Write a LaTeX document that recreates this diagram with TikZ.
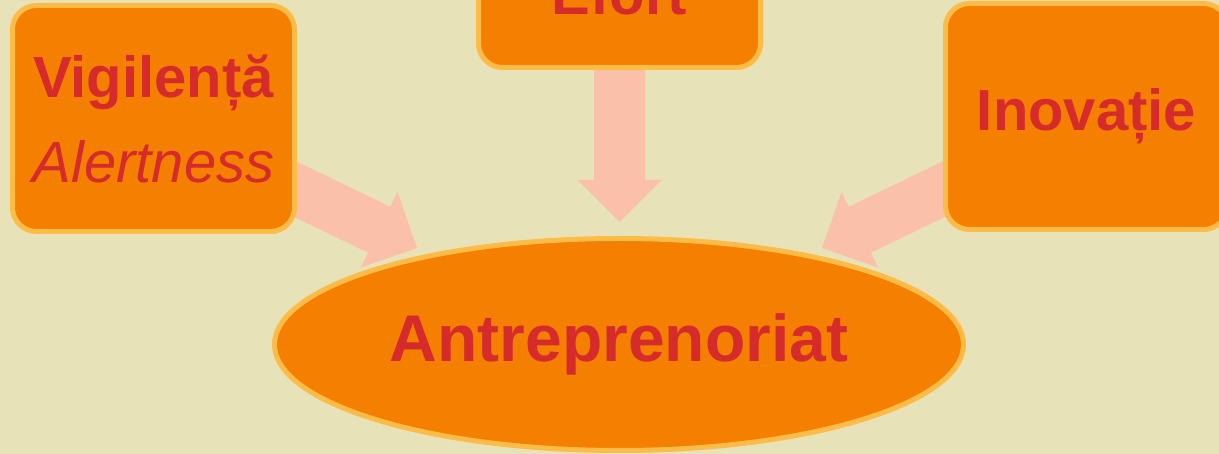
\documentclass[tikz,border=0pt]{standalone}
\usepackage{fontspec}
\setmainfont{Liberation Sans}
\usetikzlibrary{calc,shapes.geometric}
\definecolor{bgcol}{HTML}{E8E2B8}
\definecolor{boxfill}{HTML}{F57F00}
\definecolor{boxline}{HTML}{FDBB48}
\definecolor{txtred}{HTML}{D62B2B}
\definecolor{arrfill}{HTML}{FBC0AA}
\newcommand\blkarrow[2]{%
  \coordinate (#1h) at ($(#2)!42pt!(#1)$);
  \fill[arrfill] ($(#1)!25.5pt!90:(#2)$) -- ($(#1h)!25.5pt!90:(#2)$) -- ($(#1h)!42pt!90:(#2)$) -- (#2)
    -- ($(#1h)!42pt!-90:(#2)$) -- ($(#1h)!25.5pt!-90:(#2)$) -- ($(#1)!25.5pt!-90:(#2)$) -- cycle;}
\begin{document}
\begin{tikzpicture}[x=1pt,y=-1pt,
  box/.style={draw=boxline, line width=5pt, fill=boxfill, rounded corners=24pt,
    minimum width=282pt, minimum height=226pt, text=txtred,
    font=\fontsize{58}{85}\selectfont\bfseries, align=center, inner sep=0pt},
  oval/.style={ellipse, draw=boxline, line width=5pt, fill=boxfill,
    minimum width=689pt, minimum height=212pt, text=txtred,
    font=\fontsize{66}{80}\selectfont\bfseries, inner sep=0pt}]
\useasboundingbox (0,0) rectangle (1219,454);
\fill[bgcol] (0,0) rectangle (1219,454);
\clip (0,0) rectangle (1219,454);
% arrows
\coordinate (sl) at (255,169.7);
\coordinate (tl) at (417,248);
\coordinate (sr) at (984,169.7);
\coordinate (tr) at (822,248);
\coordinate (st) at (619.5,40);
\coordinate (tt) at (619.5,222);
\blkarrow{sl}{tl}
\blkarrow{sr}{tr}
\blkarrow{st}{tt}
% boxes
\node[box] (vig) at (153.5,118.5) {Vigilență\\{\mdseries\itshape Alertness}};
\node[box] (ino) at (1086.5,116.5) {Inovație};
\node[box, minimum height=148pt] (efo) at (619.5,-6.5) {Efort};
\node[oval] (ant) at (619,344.5) {Antreprenoriat};
\end{tikzpicture}
\end{document}
